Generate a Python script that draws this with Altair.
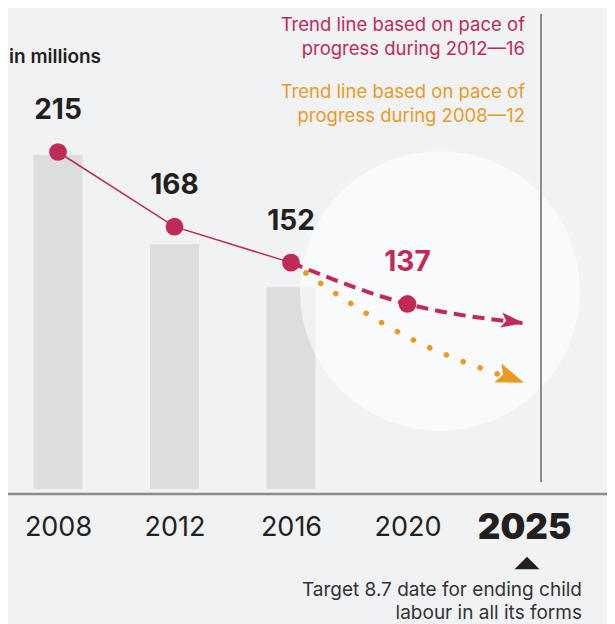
import altair as alt
import pandas as pd

# ---- data ----
years = ["2008", "2012", "2016", "2020", "2025"]
bar_years = ["2008", "2012", "2016"]
bar_values = [215, 168, 152]
point_years = ["2008", "2012", "2016", "2020"]
point_values = [215, 168, 152, 137]
fast_years = ["2016", "2020", "2025"]          # pace of 2012-16
fast_values = [152, 137, 131]
slow_years = ["2016", "2020", "2025"]          # pace of 2008-12
slow_values = [152, 127, 115.3]

legend_fast = ["Trend line based on pace of", "progress during 2012\u201416"]
legend_slow = ["Trend line based on pace of", "progress during 2008\u201412"]
note_text = ["Target 8.7 date for ending child", "labour in all its forms"]
unit_text = "in millions"

# ---- styles ----
FONT = "Inter"
MAGENTA = "#bf2a57"
ORANGE = "#e99b1f"
BAR = "#dcdddf"
BG = "#f1f2f4"
DARK = "#231f20"
RULE = "#8c8c8c"

df_bar = pd.DataFrame({"year": bar_years, "value": bar_values})
df_pts = pd.DataFrame({"year": point_years, "value": point_values})
df_fast = pd.DataFrame({"year": fast_years, "value": fast_values})
df_slow = pd.DataFrame({"year": slow_years, "value": slow_values})
dummy = pd.DataFrame({"k": [0]})

xscale = alt.Scale(type="point", domain=years, range=[50, 516], padding=0)
xaxis = alt.Axis(
    title=None, domain=False, ticks=False, grid=False, labelAngle=0,
    labelPadding=33, labelBaseline="middle", labelFont=FONT, labelColor=DARK,
    labelFontSize=alt.condition("datum.value == '2025'", alt.value(35), alt.value(27)),
    labelFontWeight=alt.condition("datum.value == '2025'", alt.value(900), alt.value(400)),
)
X = alt.X("year:N", scale=xscale, axis=xaxis)

bar_y = alt.Scale(type="pow", exponent=-1, domain=[105, 215], range=[481, 147], zero=False, nice=False)
pt_y = alt.Scale(type="pow", exponent=-1, domain=[100, 215], range=[451, 144], zero=False, nice=False)
YP = alt.Y("value:Q", scale=pt_y, axis=None)

bars = alt.Chart(df_bar).mark_bar(size=49, color=BAR).encode(
    x=X, y=alt.Y("value:Q", scale=bar_y, axis=None), y2=alt.datum(105)
)

halo = alt.Chart(dummy).mark_circle(size=78400, color="white", opacity=0.6).encode(
    x=alt.value(432), y=alt.value(283)
)

vrule = alt.Chart(dummy).mark_rule(color=RULE, strokeWidth=2).encode(
    x=alt.value(533), y=alt.value(6), y2=alt.value(474)
)
baseline = alt.Chart(dummy).mark_rule(color=RULE, strokeWidth=2.5).encode(
    y=alt.value(486), x=alt.value(0), x2=alt.value(599)
)

solid = alt.Chart(df_bar).mark_line(color=MAGENTA, strokeWidth=1.5).encode(x=X, y=YP)
dotted = alt.Chart(df_slow).mark_line(
    color=ORANGE, strokeWidth=5.5, strokeDash=[0.1, 18], strokeCap="round", interpolate="monotone"
).encode(x=X, y=YP)
dashed = alt.Chart(df_fast).mark_line(
    color=MAGENTA, strokeWidth=4, strokeDash=[12, 7], interpolate="monotone"
).encode(x=X, y=YP)

arrow_fast = alt.Chart(df_fast.tail(1)).mark_point(
    shape="M0,0L-1,-0.33L-0.78,0L-1,0.33Z", size=2116, angle=8, filled=True, opacity=1, color=MAGENTA
).encode(x=X, y=YP)
arrow_slow = alt.Chart(df_slow.tail(1)).mark_point(
    shape="M0,0L-1,-0.36L-0.8,0L-1,0.36Z", size=3136, angle=21, filled=True, opacity=1, color=ORANGE
).encode(x=X, y=YP)

points = alt.Chart(df_pts).mark_circle(size=315, color=MAGENTA, opacity=1).encode(x=X, y=YP)

labels = alt.Chart(df_pts).mark_text(
    dy=-41, fontSize=28, fontWeight="bold", font=FONT, baseline="middle"
).encode(
    x=X, y=YP, text="value:Q",
    color=alt.condition("datum.year == '2020'", alt.value(MAGENTA), alt.value(DARK)),
)

unit = alt.Chart(dummy).mark_text(
    align="left", baseline="middle", fontSize=19, fontWeight=600, font=FONT, color=DARK
).encode(x=alt.value(1), y=alt.value(49), text=alt.value(unit_text))

leg1 = alt.Chart(dummy).mark_text(
    align="right", baseline="middle", fontSize=18.5, font=FONT, color=MAGENTA, lineHeight=24
).encode(x=alt.value(517), y=alt.value(17), text=alt.value(legend_fast))
leg2 = alt.Chart(dummy).mark_text(
    align="right", baseline="middle", fontSize=18.5, font=FONT, color=ORANGE, lineHeight=23.5
).encode(x=alt.value(517), y=alt.value(84), text=alt.value(legend_slow))

note = alt.Chart(dummy).mark_text(
    align="right", baseline="middle", fontSize=19, font=FONT, color="#333333", lineHeight=23
).encode(x=alt.value(574), y=alt.value(582), text=alt.value(note_text))

tri = alt.Chart(dummy).mark_point(
    shape="M-1,0.5L0,-0.5L1,0.5Z", size=625, filled=True, opacity=1, color=DARK
).encode(x=alt.value(519), y=alt.value(555))

chart = alt.layer(
    bars, halo, vrule, baseline, solid, dotted, dashed, arrow_fast, arrow_slow,
    points, labels, unit, leg1, leg2, note, tri
).resolve_scale(y="independent").properties(
    width=599, height=486,
    padding={"left": 0, "top": 0, "right": 0, "bottom": 130},
    autosize=alt.AutoSizeParams(type="none"),
    background=BG,
).configure_view(stroke=None)

chart.save("out.html", embed_options={"renderer": "svg", "actions": False})
